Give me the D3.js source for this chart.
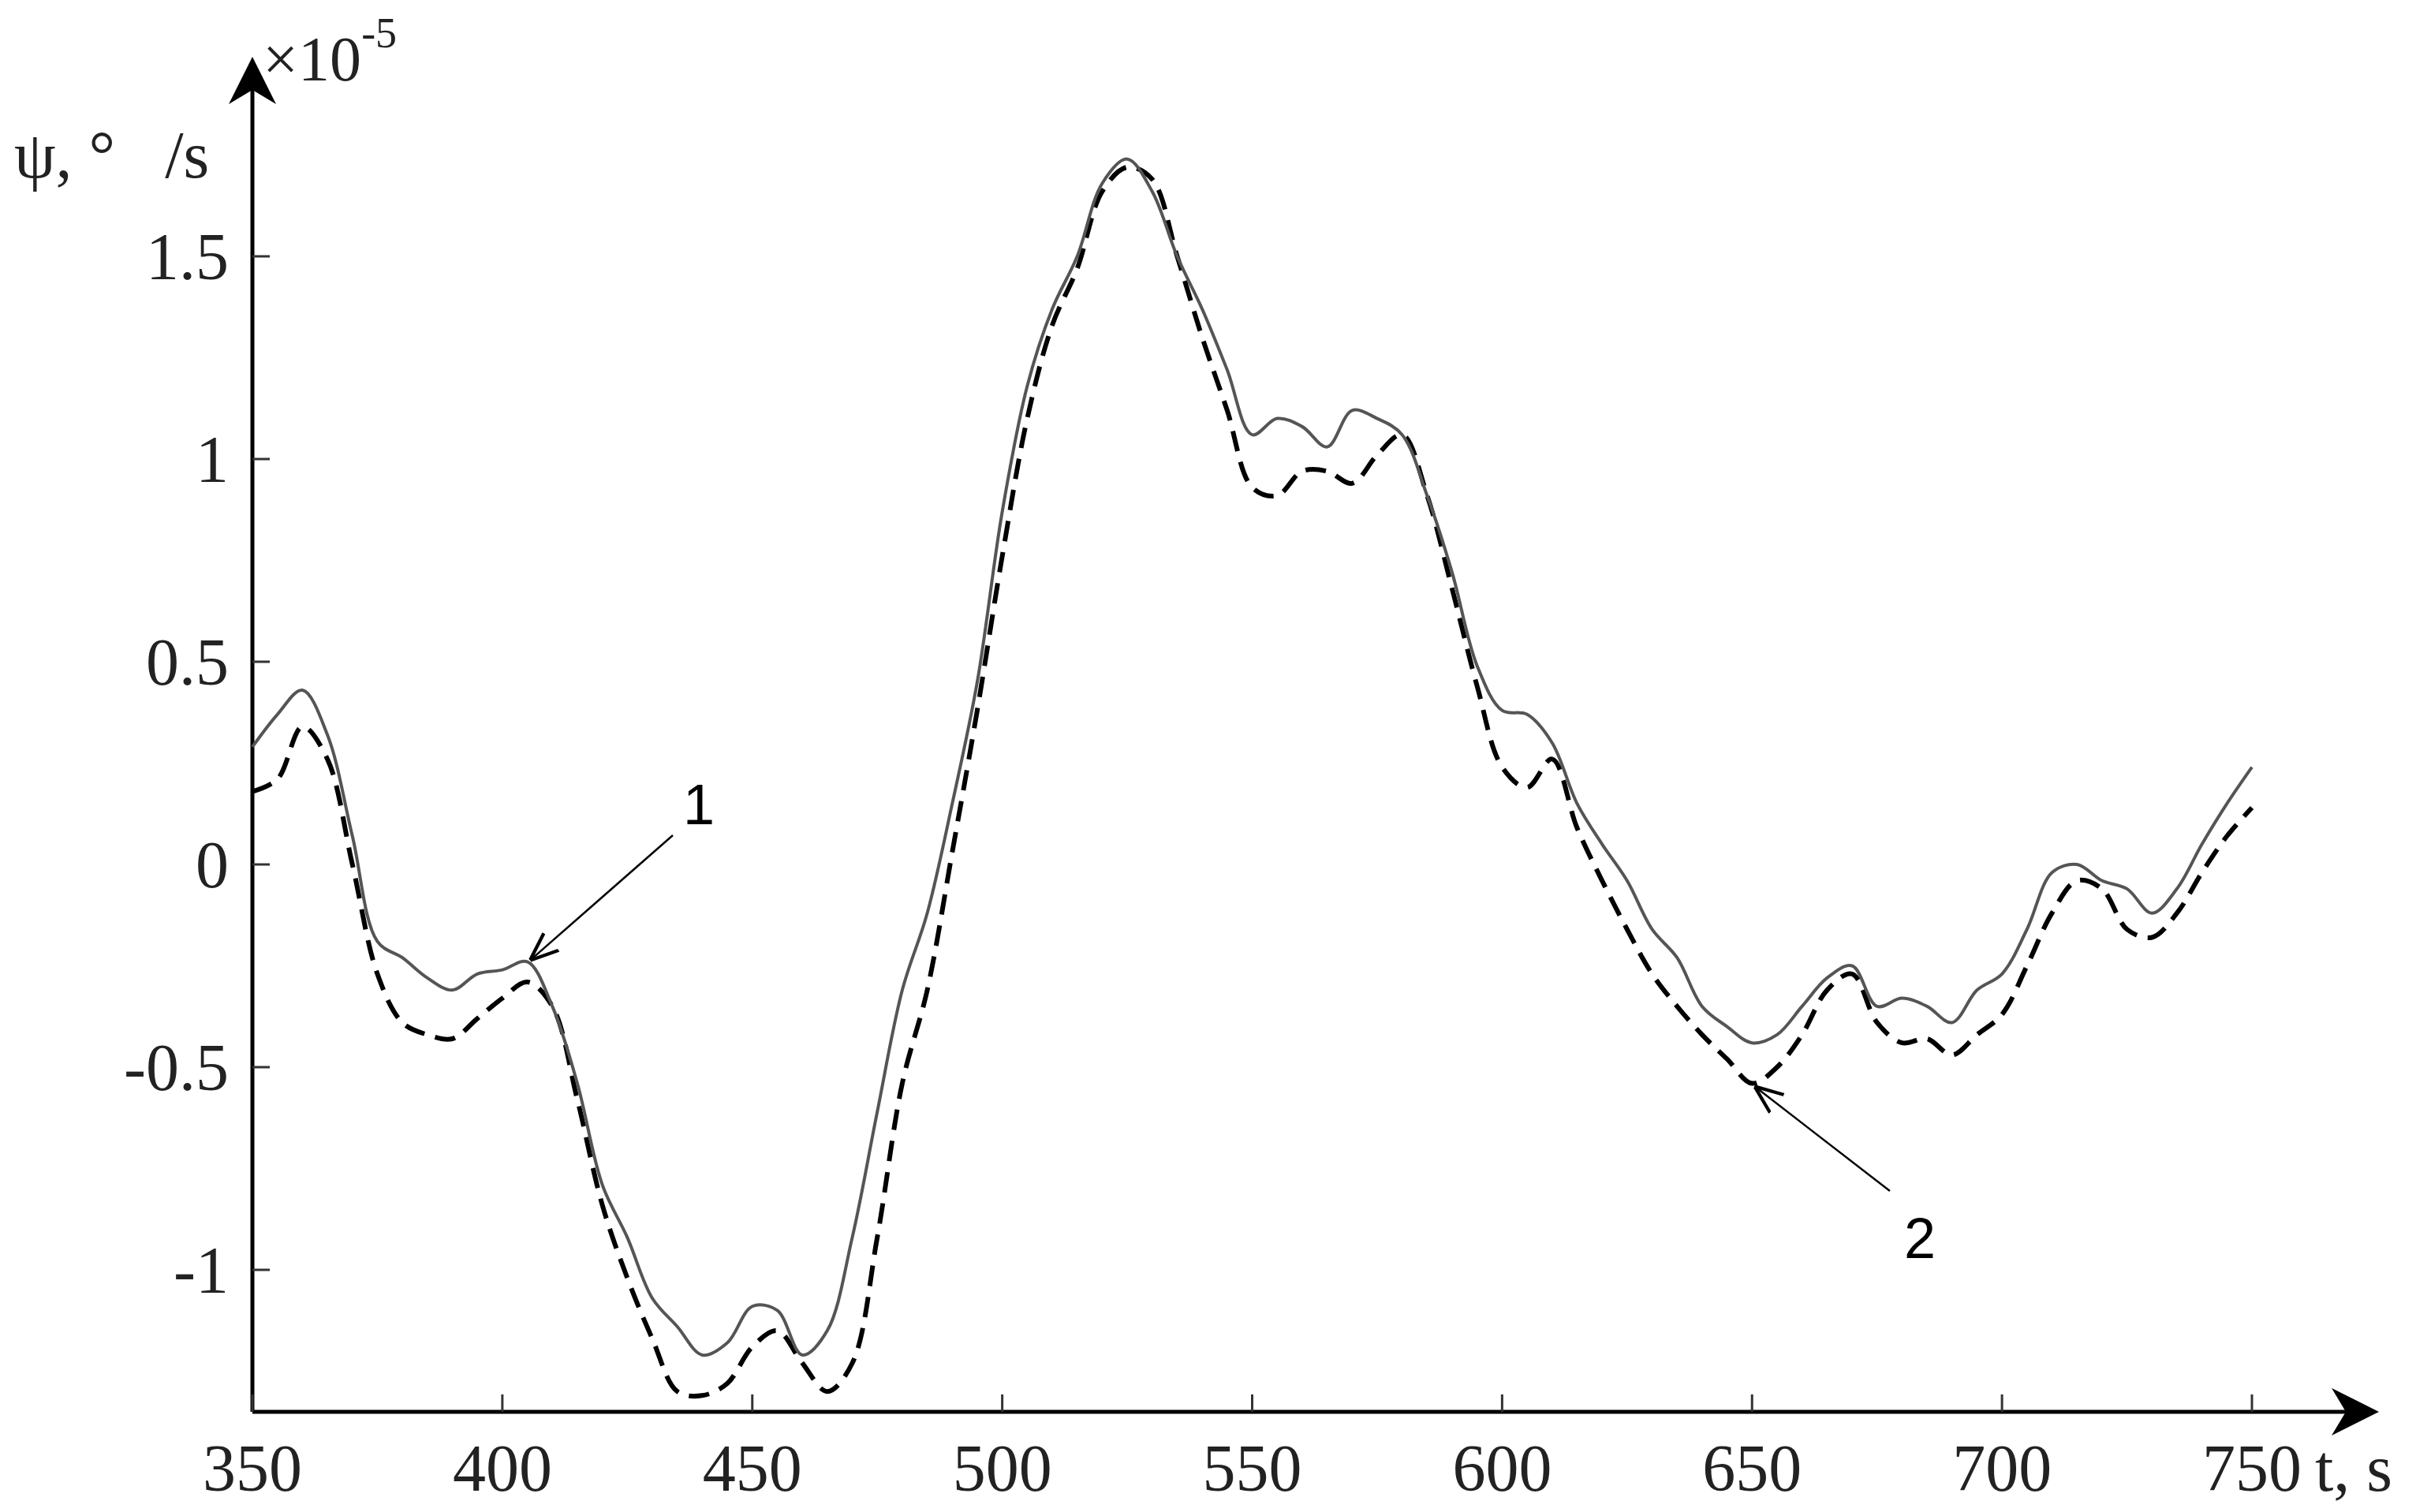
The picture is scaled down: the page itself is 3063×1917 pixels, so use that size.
<!DOCTYPE html>
<html>
<head>
<meta charset="utf-8">
<script src="https://cdn.jsdelivr.net/npm/d3@7"></script>
<style>
	body { margin: 0; background: #fff; }
	text { font-family: 'Liberation Serif', 'DejaVu Serif', serif; white-space: pre; }
</style>
</head>
<body>
<svg id="chart" width="3063" height="1917"></svg>
<script>

// time samples, s
var times = d3.range( 350, 751, 5 );

// curve 1 (solid grey), units of 1e-5 deg/s
var series1 = [
	0.29, 0.37, 0.43, 0.32, 0.07, -0.19, -0.23, -0.28, -0.31, -0.27, -0.26, -0.24, -0.35, -0.54, -0.79, -0.92,
	-1.07, -1.14, -1.21, -1.18, -1.09, -1.10, -1.21, -1.15, -0.92, -0.61, -0.31, -0.12, 0.15, 0.45, 0.87, 1.18,
	1.37, 1.50, 1.68, 1.74, 1.66, 1.50, 1.37, 1.22, 1.06, 1.10, 1.08, 1.03, 1.12, 1.10, 1.06, 0.91,
	0.72, 0.49, 0.38, 0.37, 0.30, 0.15, 0.05, -0.04, -0.16, -0.23, -0.35, -0.40, -0.44, -0.42, -0.35, -0.28,
	-0.25, -0.35, -0.33, -0.35, -0.39, -0.31, -0.27, -0.16, -0.02, 0.00, -0.04, -0.06, -0.12, -0.06, 0.05, 0.15, 0.24
];

// curve 2 (dashed black)
var series2 = [
	0.18, 0.21, 0.34, 0.26, 0.00, -0.27, -0.39, -0.42, -0.43, -0.38, -0.33, -0.29, -0.35, -0.58, -0.84, -1.02,
	-1.17, -1.30, -1.31, -1.28, -1.19, -1.15, -1.23, -1.30, -1.23, -0.92, -0.54, -0.31, 0.03, 0.38, 0.76, 1.10,
	1.33, 1.47, 1.66, 1.72, 1.69, 1.50, 1.30, 1.12, 0.93, 0.91, 0.97, 0.97, 0.94, 1.01, 1.06, 0.91,
	0.68, 0.44, 0.24, 0.19, 0.26, 0.09, -0.04, -0.16, -0.27, -0.35, -0.42, -0.48, -0.54, -0.50, -0.42, -0.31,
	-0.27, -0.39, -0.44, -0.43, -0.47, -0.42, -0.37, -0.25, -0.12, -0.04, -0.06, -0.16, -0.18, -0.12, -0.02, 0.07, 0.14
];

var xTicks = [ 350, 400, 450, 500, 550, 600, 650, 700, 750 ];
var yTicks = [ -1, -0.5, 0, 0.5, 1, 1.5 ];

var svg = d3.select( '#chart' );

var x = d3.scaleLinear().domain( [ 350, 750 ] ).range( [ 320, 2855 ] );
var y = d3.scaleLinear().domain( [ 0, 1 ] ).range( [ 1096, 582 ] );

var axisY0 = y( -1.35 ); // bottom of y axis / position of x axis

svg.append( 'defs' ).append( 'marker' )
	.attr( 'id', 'head' )
	.attr( 'viewBox', '0 0 10 10' )
	.attr( 'refX', 9 ).attr( 'refY', 5 )
	.attr( 'markerWidth', 60 ).attr( 'markerHeight', 60 )
	.attr( 'markerUnits', 'userSpaceOnUse' )
	.attr( 'orient', 'auto' )
	.append( 'path' ).attr( 'd', 'M0,0 L10,5 L0,10 L3,5 Z' ).attr( 'fill', '#000' );

svg.append( 'defs' ).append( 'marker' )
	.attr( 'id', 'small' )
	.attr( 'viewBox', '0 0 10 10' )
	.attr( 'refX', 9 ).attr( 'refY', 5 )
	.attr( 'markerWidth', 36 ).attr( 'markerHeight', 36 )
	.attr( 'markerUnits', 'userSpaceOnUse' )
	.attr( 'orient', 'auto' )
	.append( 'path' ).attr( 'd', 'M0,1 L10,5 L0,9' ).attr( 'fill', 'none' ).attr( 'stroke', '#000' ).attr( 'stroke-width', 1.2 );

// axes with arrows
svg.append( 'line' )
	.attr( 'x1', x( 350 ) ).attr( 'y1', axisY0 ).attr( 'x2', 3010 ).attr( 'y2', axisY0 )
	.attr( 'stroke', '#000' ).attr( 'stroke-width', 5 ).attr( 'marker-end', 'url(#head)' );
svg.append( 'line' )
	.attr( 'x1', x( 350 ) ).attr( 'y1', axisY0 ).attr( 'x2', x( 350 ) ).attr( 'y2', 78 )
	.attr( 'stroke', '#000' ).attr( 'stroke-width', 5 ).attr( 'marker-end', 'url(#head)' );

// x ticks
var xg = svg.append( 'g' );
xg.selectAll( 'line' ).data( xTicks ).enter().append( 'line' )
	.attr( 'x1', function ( d ) { return x( d ); } ).attr( 'x2', function ( d ) { return x( d ); } )
	.attr( 'y1', axisY0 ).attr( 'y2', axisY0 - 22 )
	.attr( 'stroke', '#333' ).attr( 'stroke-width', 3 );
xg.selectAll( 'text' ).data( xTicks ).enter().append( 'text' )
	.attr( 'x', function ( d ) { return x( d ); } ).attr( 'y', axisY0 + 100 )
	.attr( 'text-anchor', 'middle' ).attr( 'font-size', 84 ).attr( 'fill', '#222' )
	.text( function ( d ) { return d; } );

// y ticks
var yg = svg.append( 'g' );
yg.selectAll( 'line' ).data( yTicks ).enter().append( 'line' )
	.attr( 'x1', x( 350 ) ).attr( 'x2', x( 350 ) + 22 )
	.attr( 'y1', function ( d ) { return y( d ); } ).attr( 'y2', function ( d ) { return y( d ); } )
	.attr( 'stroke', '#333' ).attr( 'stroke-width', 3 );
yg.selectAll( 'text' ).data( yTicks ).enter().append( 'text' )
	.attr( 'x', x( 350 ) - 30 ).attr( 'y', function ( d ) { return y( d ) + 29; } )
	.attr( 'text-anchor', 'end' ).attr( 'font-size', 84 ).attr( 'fill', '#222' )
	.text( function ( d ) { return d; } );

// labels
svg.append( 'text' ).attr( 'x', 18 ).attr( 'y', 225 ).attr( 'font-size', 84 ).attr( 'fill', '#222' ).text( 'ψ, °   /s' );
svg.append( 'text' ).attr( 'x', 333 ).attr( 'y', 102 ).attr( 'font-size', 80 ).attr( 'fill', '#222' )
	.text( '×10' ).append( 'tspan' ).attr( 'dy', -42 ).attr( 'font-size', 54 ).text( '-5' );
svg.append( 'text' ).attr( 'x', 2935 ).attr( 'y', axisY0 + 100 ).attr( 'font-size', 84 ).attr( 'fill', '#222' ).text( 't, s' );

// curves
var line = function ( vals ) {
	return d3.line()
		.x( function ( d, i ) { return x( times[i] ); } )
		.y( function ( d ) { return y( d ); } )
		.curve( d3.curveCatmullRom )( vals );
};

svg.append( 'path' ).attr( 'd', line( series2 ) )
	.attr( 'fill', 'none' ).attr( 'stroke', '#000' ).attr( 'stroke-width', 6 )
	.attr( 'stroke-dasharray', '26,14' );
svg.append( 'path' ).attr( 'd', line( series1 ) )
	.attr( 'fill', 'none' ).attr( 'stroke', '#555' ).attr( 'stroke-width', 4 );

// curve annotations
svg.append( 'line' ).attr( 'x1', 853 ).attr( 'y1', 1059 ).attr( 'x2', x( 405 ) + 6 ).attr( 'y2', y( -0.24 ) - 4 )
	.attr( 'stroke', '#000' ).attr( 'stroke-width', 2.5 ).attr( 'marker-end', 'url(#small)' );
svg.append( 'text' ).attr( 'x', 866 ).attr( 'y', 1045 ).attr( 'font-size', 72 )
	.style( 'font-family', "'Liberation Sans', Arial, sans-serif" ).text( '1' );

svg.append( 'line' ).attr( 'x1', 2396 ).attr( 'y1', 1510 ).attr( 'x2', x( 650 ) + 6 ).attr( 'y2', y( -0.54 ) + 6 )
	.attr( 'stroke', '#000' ).attr( 'stroke-width', 2.5 ).attr( 'marker-end', 'url(#small)' );
svg.append( 'text' ).attr( 'x', 2414 ).attr( 'y', 1595 ).attr( 'font-size', 72 )
	.style( 'font-family', "'Liberation Sans', Arial, sans-serif" ).text( '2' );

</script>
</body>
</html>
